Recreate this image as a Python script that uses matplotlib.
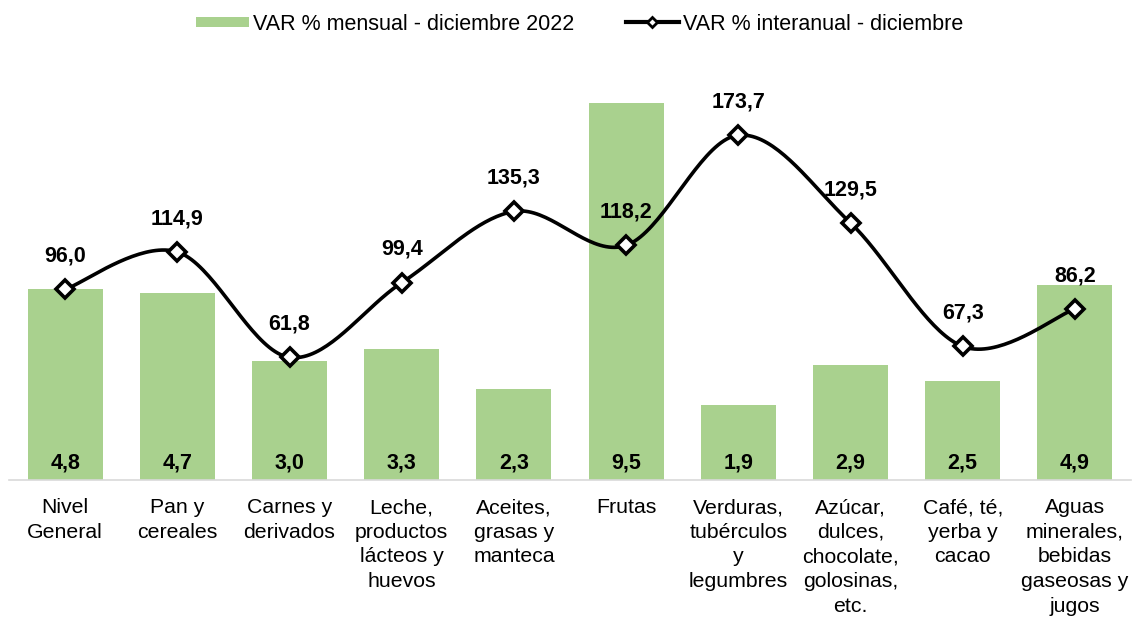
import numpy as np
import matplotlib
matplotlib.use("Agg")
import matplotlib.pyplot as plt
from matplotlib.lines import Line2D
from matplotlib.patches import Patch, Rectangle
from matplotlib.legend_handler import HandlerPatch

plt.rcParams['font.family'] = ['Liberation Sans', 'DejaVu Sans']

categories = ["Nivel\nGeneral", "Pan y\ncereales", "Carnes y\nderivados",
              "Leche,\nproductos\nlácteos y\nhuevos", "Aceites,\ngrasas y\nmanteca",
              "Frutas", "Verduras,\ntubérculos\ny\nlegumbres",
              "Azúcar,\ndulces,\nchocolate,\ngolosinas,\netc.",
              "Café, té,\nyerba y\ncacao", "Aguas\nminerales,\nbebidas\ngaseosas y\njugos"]
mensual = [4.8, 4.7, 3.0, 3.3, 2.3, 9.5, 1.9, 2.9, 2.5, 4.9]
interanual = [96.0, 114.9, 61.8, 99.4, 135.3, 118.2, 173.7, 129.5, 67.3, 86.2]
legend_labels = ["VAR % mensual - diciembre 2022", "VAR % interanual - diciembre"]

def fmt(v):
    return f"{v:.1f}".replace(".", ",")

def catmull_rom(x, y, n=40):
    x = np.asarray(x, float); y = np.asarray(y, float)
    px = np.concatenate([[x[0]], x, [x[-1]]])
    py = np.concatenate([[y[0]], y, [y[-1]]])
    xs, ys = [], []
    for i in range(1, len(px) - 2):
        t = np.linspace(0, 1, n)
        p0, p1, p2, p3 = (np.array([px[j], py[j]]) for j in (i - 1, i, i + 1, i + 2))
        c1 = p1 + (p2 - p0) / 6
        c2 = p2 - (p3 - p1) / 6
        b = ((1 - t) ** 3)[:, None] * p1 + (3 * (1 - t) ** 2 * t)[:, None] * c1 + \
            (3 * (1 - t) * t ** 2)[:, None] * c2 + (t ** 3)[:, None] * p2
        xs.append(b[:, 0]); ys.append(b[:, 1])
    return np.concatenate(xs), np.concatenate(ys)

fig = plt.figure(figsize=(11.35, 6.24), dpi=100)
W, H = 1135, 624
ax = fig.add_axes([9 / W, (H - 480) / H, (1131 - 9) / W, (480 - 83) / H])
x = np.arange(len(categories))
green = "#a9d18e"
ax.bar(x, mensual, width=0.67, color=green, zorder=1)
ax.set_ylim(0, 10)
ax.set_xlim(-0.5, len(categories) - 0.5)
ax.set_yticks([])
for s in ["top", "left", "right"]:
    ax.spines[s].set_visible(False)
ax.spines["bottom"].set_color("#d9d9d9")
ax.spines["bottom"].set_linewidth(1.2)
ax.set_xticks(x)
ax.set_xticklabels(categories, fontsize=15.3, linespacing=1.38)
ax.tick_params(axis="x", length=0, pad=13)
for xi, v in zip(x, mensual):
    ax.annotate(fmt(v), (xi, 0), xytext=(0, 12), textcoords="offset points",
                ha="center", va="center", fontsize=15.5, fontweight="bold", color="black")

ax2 = ax.twinx()
ax2.set_ylim(0, 200)
ax2.set_yticks([])
for s in ["top", "left", "right", "bottom"]:
    ax2.spines[s].set_visible(False)
sx, sy = catmull_rom(x, interanual)
ax2.plot(sx, sy, color="black", lw=2.6, zorder=3)
ax2.plot(x, interanual, ls="none", marker="D", ms=9.5, mfc="white", mec="black", mew=2.6, zorder=4)
for xi, v in zip(x, interanual):
    ax2.annotate(fmt(v), (xi, v), xytext=(0, 24), textcoords="offset points",
                 ha="center", va="center", fontsize=15.5, fontweight="bold", color="black")

def small_patch(legend, orig_handle, xdescent, ydescent, width, height, fontsize):
    h = height * 0.62
    return Rectangle((-xdescent, -ydescent + (height - h) / 2), width, h)

handles = [Patch(facecolor=green, edgecolor="none"),
           Line2D([0], [0], color="black", lw=3, marker="D", ms=5.5, mfc="white", mec="black", mew=2)]
fig.legend(handles, legend_labels,
           loc="center", bbox_to_anchor=(579.5 / W, 1 - 24 / H), ncol=2, frameon=False,
           fontsize=15.5, handlelength=2.45, handletextpad=0.2, columnspacing=2.4,
           handler_map={Patch: HandlerPatch(patch_func=small_patch)})

fig.savefig("out.png", dpi=100)
